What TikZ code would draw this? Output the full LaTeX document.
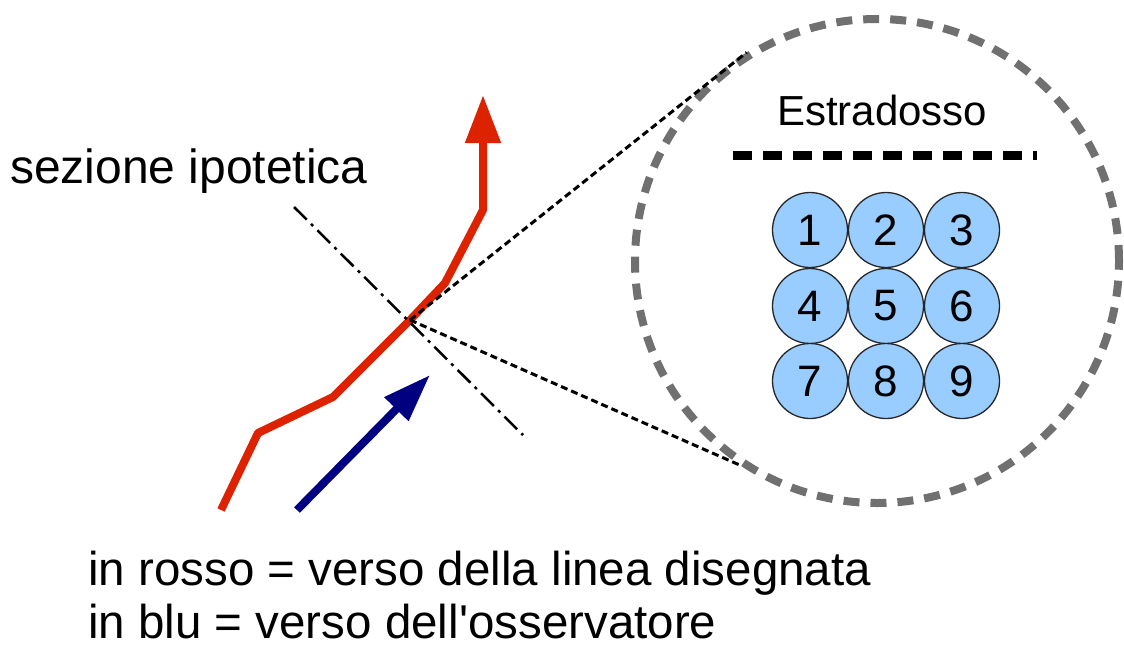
\documentclass[tikz,border=0pt]{standalone}
\usepackage{fontspec}
\setmainfont{Liberation Sans}
\usetikzlibrary{arrows.meta}
\definecolor{linered}{RGB}{221,34,0}
\definecolor{viewblue}{RGB}{0,0,128}
\definecolor{barfill}{RGB}{153,204,255}
\definecolor{lensgray}{RGB}{112,112,112}

\begin{document}
\begin{tikzpicture}[x=1pt,y=-1pt,
    bar/.style={circle,draw=black!85,line width=1.3pt,fill=barfill,minimum size=75pt,inner sep=0pt,font=\fontsize{44}{48}\selectfont},
    txt/.style={anchor=base west,inner sep=0pt}]
    \useasboundingbox (0,0) rectangle (1124,648);
    % lente
    \node[circle,draw=lensgray,line width=8pt,dash pattern=on 16pt off 11pt,minimum size=484pt,inner sep=0pt] (lens) at (877,261) {};
    \node[txt,font=\fontsize{42}{46}\selectfont] (estr) at (777,125) {Estradosso};
    \coordinate (estrL) at (733,155);
    \coordinate (estrR) at (1037,155);
    \draw[line width=9pt,dash pattern=on 19pt off 11pt] (estrL) -- (estrR);
    \node[bar] (bar1) at (810,230) {1};
    \node[bar] (bar2) at (886,230) {2};
    \node[bar] (bar3) at (962,230) {3};
    \node[bar] (bar4) at (810,306) {4};
    \node[bar] (bar5) at (886,306) {5};
    \node[bar] (bar6) at (962,306) {6};
    \node[bar] (bar7) at (810,381) {7};
    \node[bar] (bar8) at (886,381) {8};
    \node[bar] (bar9) at (962,381) {9};
    % linea e sezione
    \coordinate (cross) at (410,320);
    \draw[linered,line width=8pt,line join=round,-{Triangle[length=48pt,width=34pt]}]
        (221,510) -- (258,433) -- (333,397) -- (cross) -- (445,283) -- (483,210) -- (483,95);
    \coordinate (obsA) at (297,510);
    \coordinate (obsB) at (430,375);
    \draw[viewblue,line width=8pt,-{Triangle[length=48pt,width=32pt]}] (obsA) -- (obsB);
    \coordinate (secA) at (294,207);
    \coordinate (secB) at (523,435);
    \draw[line width=2.5pt,dash pattern=on 18pt off 6pt on 3pt off 6pt] (secA) -- (secB);
    \draw[line width=3pt,dash pattern=on 7pt off 4pt] (cross) -- (lens.122);
    \draw[line width=3pt,dash pattern=on 7pt off 4pt] (cross) -- (lens.236);
    \node[txt,font=\fontsize{48}{50}\selectfont] (sez) at (10,183) {sezione ipotetica};
    \node[txt,font=\fontsize{47.5}{50}\selectfont] (legred) at (88,585) {in rosso = verso della linea disegnata};
    \node[txt,font=\fontsize{47.5}{50}\selectfont] (legblue) at (88,638) {in blu = verso dell\textquotesingle osservatore};
\end{tikzpicture}
\end{document}
